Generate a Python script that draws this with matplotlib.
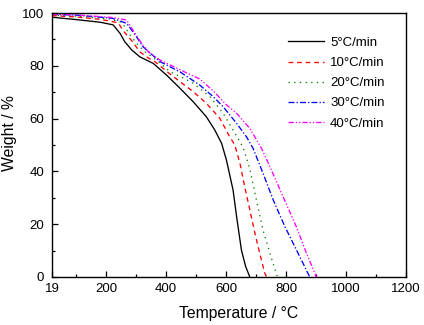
import numpy as np
import matplotlib
matplotlib.use("Agg")
import matplotlib.pyplot as plt

plt.rcParams["font.family"] = ["Liberation Sans", "DejaVu Sans"]

# TGA weight-loss curves at five heating rates (temperature in °C, weight in %)
T_5 = [19, 100, 180, 223, 246, 262, 285, 312, 357, 401, 446, 490, 534, 562, 585, 601, 623, 635, 651, 665, 679]
W_5 = [98.4, 97.5, 96.5, 95.5, 92.3, 89.1, 86, 83.4, 80.9, 76.5, 71.5, 66.4, 60.7, 55.7, 50.6, 44.3, 33, 22.8, 10.2, 4, 0]

T_10 = [19, 100, 180, 240, 257, 285, 312, 340, 362, 407, 446, 490, 534, 579, 612, 629, 646, 662, 679, 696, 712, 729, 735]
W_10 = [99, 98.5, 97.6, 96.3, 93.2, 89.5, 85.3, 83, 81.6, 77.4, 74, 70.2, 65.8, 60.1, 53.1, 50, 43.1, 34.2, 25.4, 16.6, 9, 1.4, 0]

T_20 = [19, 100, 212, 250, 262, 279, 301, 329, 368, 412, 446, 490, 546, 590, 623, 657, 679, 701, 723, 746, 771]
W_20 = [99.2, 98.8, 97.7, 96.5, 94.8, 91.7, 88.5, 85.3, 82.2, 77.8, 76, 73.4, 68.3, 62, 55.7, 49, 41, 29.2, 17.8, 9, 0]

T_30 = [19, 100, 220, 268, 285, 301, 323, 379, 446, 512, 557, 590, 635, 668, 690, 723, 757, 796, 840, 879]
W_30 = [99.5, 99.2, 98, 96.1, 93.5, 91, 87.2, 81.6, 77.7, 72.7, 68.3, 64.5, 58.2, 53.1, 48.7, 39.3, 29.2, 19.1, 9, 0]

T_40 = [19, 100, 220, 268, 296, 318, 340, 379, 446, 512, 557, 601, 635, 679, 718, 746, 790, 834, 868, 901]
W_40 = [99.5, 99.3, 98.3, 97.3, 92.3, 88.5, 85.3, 82.2, 78.5, 75, 70.5, 65.2, 62, 56.3, 48.7, 41.8, 30.4, 19.1, 9, 0]

labels = ["5°C/min", "10°C/min", "20°C/min", "30°C/min", "40°C/min"]

fig = plt.figure(figsize=(4.24, 3.25), dpi=100)
ax = fig.add_axes([0.1226, 0.1477, 0.8349, 0.8123])

series = [
    (T_5, W_5, "#000000", "-"),
    (T_10, W_10, "#ff0000", (0, (3.6, 2.9))),
    (T_20, W_20, "#008000", (0, (1, 3.3))),
    (T_30, W_30, "#0000ff", (0, (4.5, 1.6, 1, 1.6))),
    (T_40, W_40, "#ff00ff", (0, (4, 1.5, 1, 1.5, 1, 1.5))),
]
for (t, w, c, ls), lab in zip(series, labels):
    ax.plot(t, w, color=c, linestyle=ls, linewidth=0.95, label=lab)

ax.set_xlim(19, 1200)
ax.set_ylim(0, 100)
ax.set_xticks([19, 200, 400, 600, 800, 1000, 1200])
ax.set_xticks(np.arange(100, 1200, 200), minor=True)
ax.set_yticks(np.arange(0, 101, 20))
ax.set_yticks(np.arange(10, 100, 20), minor=True)
ax.tick_params(which="both", direction="in", top=False, right=False, labelsize=9.5, width=0.9)
ax.tick_params(axis="x", which="major", length=4, pad=4.5)
ax.tick_params(axis="y", which="major", length=4, pad=5.5)
ax.tick_params(which="minor", length=2.5)
for s in ax.spines.values():
    s.set_linewidth(1.0)

ax.set_xlabel("Temperature / °C", fontsize=11.3)
ax.set_ylabel("Weight / %", fontsize=11.3)
ax.xaxis.set_label_coords(0.527, -0.11)
ax.yaxis.set_label_coords(-0.099, 0.5436)

ax.legend(loc="upper left", bbox_to_anchor=(0.6675, 0.91), frameon=False,
          fontsize=9.5, handlelength=2.73, handletextpad=0.43, labelspacing=0.6,
          borderpad=0, borderaxespad=0)

fig.savefig("out.png", dpi=100)
